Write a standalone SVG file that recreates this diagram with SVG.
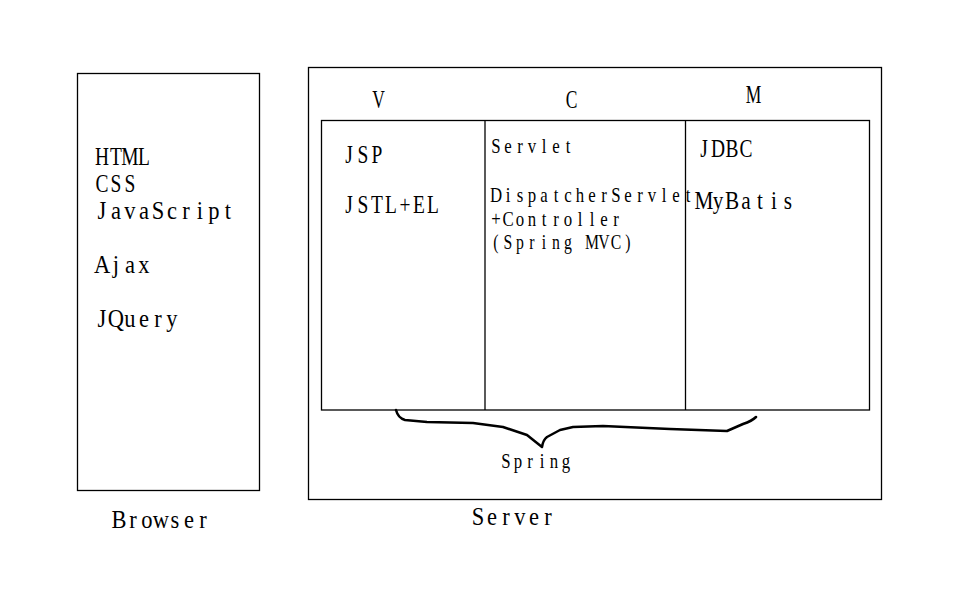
<svg xmlns="http://www.w3.org/2000/svg" width="962" height="616" viewBox="0 0 962 616">
<style>
.box{fill:none;stroke:#000;stroke-width:1.3}
.t{font-family:"Liberation Serif","DejaVu Serif",serif;font-size:25px;fill:#000;text-anchor:middle}
.s{font-family:"Liberation Serif","DejaVu Serif",serif;font-size:21px;fill:#000;text-anchor:middle}
</style>
<rect width="962" height="616" fill="#fff"/>
<g id="browser">
<rect class="box" x="77.5" y="73.5" width="182" height="417"/>
<text class="t" transform="translate(95,165) scale(0.7778,1)" x="9 27 45 63" y="0">HTML</text>
<text class="t" transform="translate(95,192) scale(0.7778,1)" x="9 27 45" y="0">CSS</text>
<text class="t" transform="translate(95,219) scale(0.9,1)" x="7.78 23.33 38.89 54.44 70 85.56 101.11 116.67 132.22 147.78" y="0">JavaScript</text>
<text class="t" transform="translate(95,273) scale(0.9,1)" x="7.78 23.33 38.89 54.44" y="0">Ajax</text>
<text class="t" transform="translate(95,327) scale(0.9,1)" x="7.78 23.33 38.89 54.44 70 85.56" y="0">JQuery</text>
<text class="t" transform="translate(112,528) scale(0.9,1)" x="7.78 23.33 38.89 54.44 70 85.56 101.11" y="0">Browser</text>
</g>
<g id="server">
<rect class="box" x="308.5" y="67.5" width="573" height="432"/>
<text class="t" transform="translate(471,525) scale(0.9,1)" x="7.78 23.33 38.89 54.44 70 85.56" y="0">Server</text>
</g>
<g id="mvc">
<rect class="box" x="321.5" y="120.5" width="548" height="289.5"/>
<line class="box" x1="485" y1="120.5" x2="485" y2="410"/>
<line class="box" x1="685.5" y1="120.5" x2="685.5" y2="410"/>
</g>
<g id="view">
<text class="t" transform="translate(378.5,108) scale(0.7,1)" x="0" y="0">V</text>
<text class="t" transform="translate(342,163) scale(0.7778,1)" x="9 27 45" y="0">JSP</text>
<text class="t" transform="translate(342,213) scale(0.7778,1)" x="9 27 45 63 81 99 117" y="0">JSTL+EL</text>
</g>
<g id="controller">
<text class="t" transform="translate(571.5,108) scale(0.7,1)" x="0" y="0">C</text>
<text class="s" transform="translate(490,153) scale(0.8,1)" x="7.5 22.5 37.5 52.5 67.5 82.5 97.5" y="0">Servlet</text>
<text class="s" transform="translate(490,202) scale(0.8,1)" x="7.5 22.5 37.5 52.5 67.5 82.5 97.5 112.5 127.5 142.5 157.5 172.5 187.5 202.5 217.5 232.5 247.5" y="0">DispatcherServlet</text>
<text class="s" transform="translate(490,226) scale(0.8,1)" x="7.5 22.5 37.5 52.5 67.5 82.5 97.5 112.5 127.5 142.5 157.5" y="0">+Controller</text>
<text class="s" transform="translate(490,249) scale(0.75,1)" x="8 24 40 56 72 88 104 120 136 152 168 184" y="0">(Spring MVC)</text>
</g>
<g id="model">
<text class="t" transform="translate(753.5,103) scale(0.7,1)" x="0" y="0">M</text>
<text class="t" transform="translate(697,157) scale(0.7778,1)" x="9 27 45 63" y="0">JDBC</text>
<text class="t" transform="translate(697,209) scale(0.85,1)" x="8.24 24.71 41.18 57.65 74.12 90.59 107.06" y="0">MyBatis</text>
</g>
<g id="connectors">
<path d="M396,410 Q398,418 405,420 L427,422 L473,423 L503,427 L527,435 L542,447 Q543,440 547,437 L560,430 L573,427 L603,426 L670,429 L727,431 L743,424 Q752,421 756,417" fill="none" stroke="#000" stroke-width="2.5" stroke-linejoin="round" stroke-linecap="round"/>
</g>
<g id="spring">
<text class="s" transform="translate(500,468) scale(0.8,1)" x="7.5 22.5 37.5 52.5 67.5 82.5" y="0">Spring</text>
</g>
</svg>
